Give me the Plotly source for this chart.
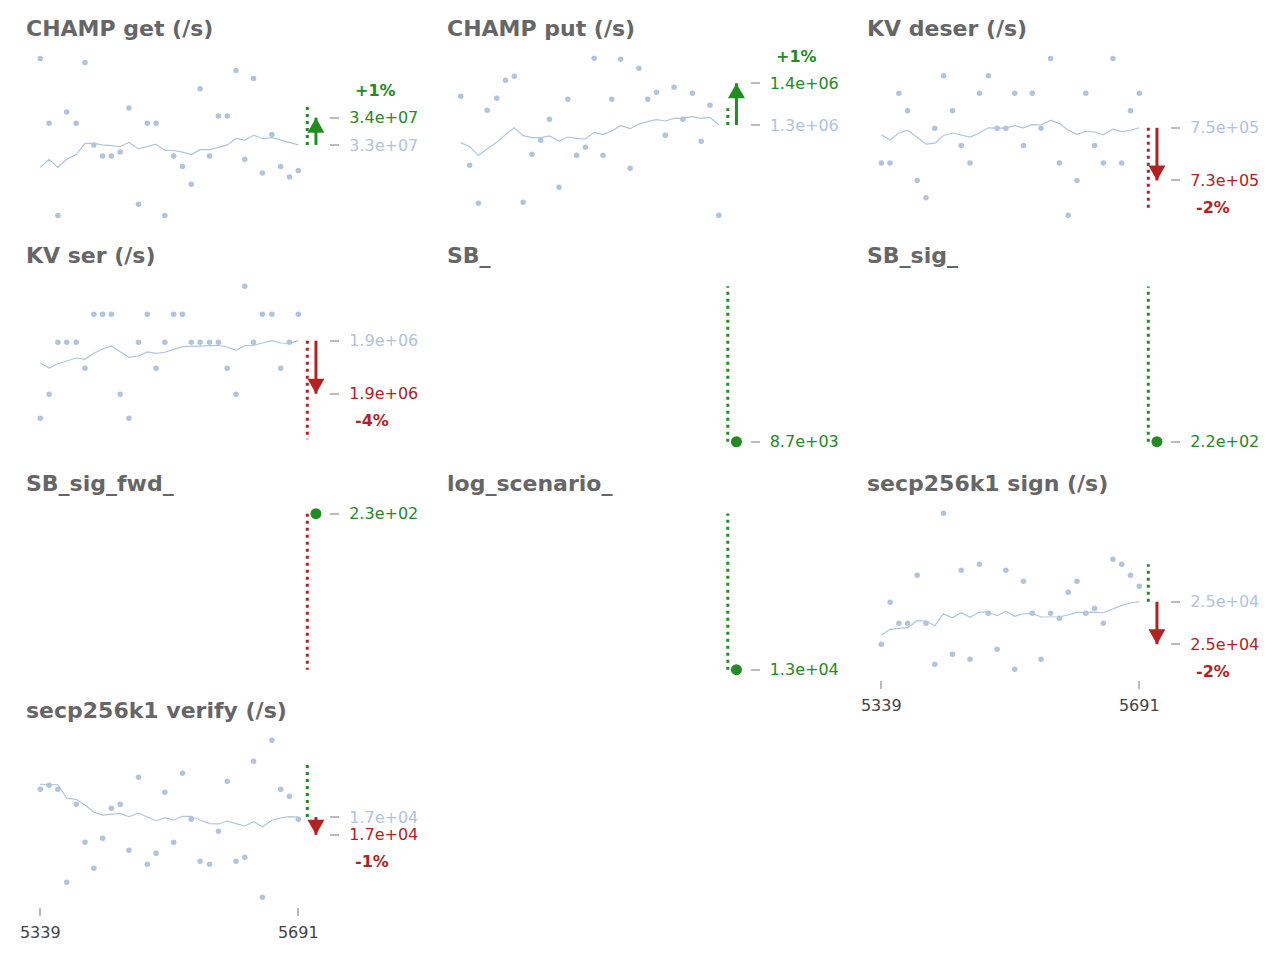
import plotly.graph_objects as go

# ---------------- data ----------------
commits = [5339, 5351, 5363, 5375, 5388, 5400, 5412, 5424, 5436, 5448,
           5460, 5473, 5485, 5497, 5509, 5521, 5533, 5545, 5557, 5570,
           5582, 5594, 5606, 5618, 5630, 5642, 5655, 5667, 5679, 5691]

titles = ["CHAMP get (/s)", "CHAMP put (/s)", "KV deser (/s)", "KV ser (/s)",
          "SB_", "SB_sig_", "SB_sig_fwd_", "log_scenario_",
          "secp256k1 sign (/s)", "secp256k1 verify (/s)"]

# value unit of each panel's numbers (ops/s = value * unit)
units = [1e5, 1e3, 1e3, 1e3, 1, 1, 1, 1, 1, 1]

champ_get_runs = [344.8, 336.7, 325.2, 338.1, 336.7, 344.3, 334.0, 332.6, 332.6, 333.1,
                  338.6, 326.6, 336.7, 336.7, 325.2, 332.6, 331.3, 329.1, 341.0, 332.6,
                  337.6, 337.6, 343.3, 332.2, 342.3, 330.5, 335.3, 331.3, 330.0, 330.8]
champ_get_avg = [331.2, 332.2, 331.2, 332.2, 332.8, 334.2, 334.2, 334.0, 333.9, 333.8,
                 334.3, 333.5, 333.8, 334.1, 333.3, 333.3, 333.1, 332.8, 333.4, 333.4,
                 333.7, 334.0, 334.8, 334.6, 335.2, 334.8, 334.9, 334.6, 334.3, 334.0]

champ_put_runs = [1352.6, 1331.9, 1320.5, 1348.4, 1352.0, 1357.4, 1358.6, 1320.8, 1335.2, 1339.4,
                  1345.7, 1325.3, 1351.7, 1334.9, 1337.3, 1364.0, 1334.9, 1351.7, 1363.7, 1331.0,
                  1361.0, 1351.7, 1353.8, 1340.9, 1355.3, 1345.7, 1353.5, 1339.1, 1349.9, 1316.9]
champ_put_avg = [1338.7, 1337.5, 1334.9, 1336.9, 1338.8, 1341.1, 1343.2, 1340.8, 1340.2, 1340.2,
                 1340.7, 1339.2, 1340.4, 1340.0, 1339.8, 1341.8, 1341.2, 1342.2, 1343.8, 1342.9,
                 1344.3, 1345.0, 1345.6, 1345.2, 1346.0, 1346.0, 1346.5, 1346.0, 1346.3, 1344.0]

kv_deser_runs = [735, 735, 755, 750, 730, 725, 745, 760, 750, 740,
                 735, 755, 760, 745, 745, 755, 740, 755, 745, 765,
                 735, 720, 730, 755, 740, 735, 765, 735, 750, 755]
kv_deser_avg = [743.1, 741.6, 743.6, 744.4, 742.4, 740.4, 740.7, 742.9, 743.6, 743.0,
                742.4, 743.6, 745.1, 745.0, 745.0, 745.7, 745.1, 746.0, 745.9, 747.3,
                746.3, 744.4, 743.2, 744.1, 743.9, 743.1, 744.7, 744.0, 744.4, 745.1]

kv_ser_runs = [1821.7, 1856.7, 1932.7, 1932.7, 1932.7, 1894.7, 1973.5, 1973.5, 1973.5, 1856.7,
               1821.7, 1932.7, 1973.5, 1894.7, 1932.7, 1973.5, 1973.5, 1932.7, 1932.7, 1932.7,
               1932.7, 1894.7, 1856.7, 2014.4, 1932.7, 1973.5, 1973.5, 1894.7, 1932.7, 1973.5]
kv_ser_avg = [1902.9, 1895.1, 1901.4, 1905.8, 1909.7, 1907.8, 1916.6, 1922.9, 1927.3, 1918.9,
              1910.8, 1912.7, 1918.5, 1916.6, 1918.1, 1922.4, 1926.2, 1926.8, 1927.3, 1927.3,
              1928.3, 1925.8, 1921.0, 1927.7, 1928.3, 1931.6, 1935.0, 1931.6, 1931.2, 1935.0]

sign_runs = [24796, 25312, 25054, 25054, 25644, 25054, 24550, 26407, 24673, 25706,
             24611, 25780, 25177, 24734, 25706, 24488, 25571, 25177, 24611, 25177,
             25116, 25435, 25571, 25177, 25239, 25054, 25841, 25780, 25644, 25509]
sign_avg = [24910, 24980, 24993, 25000, 25086, 25082, 25025, 25172, 25123, 25184,
            25128, 25193, 25193, 25148, 25202, 25140, 25172, 25177, 25132, 25132,
            25135, 25156, 25189, 25189, 25193, 25184, 25234, 25275, 25304, 25320]

verify_runs = [17310, 17348, 17310, 16427, 17168, 16807, 16560, 16845, 17130, 17168,
               16731, 17424, 16598, 16702, 17282, 16807, 17462, 17025, 16626, 16598,
               16911, 17386, 16626, 16664, 17576, 16284, 17776, 17310, 17244, 17025]
verify_avg = [17358, 17358, 17354, 17225, 17215, 17161, 17095, 17066, 17073, 17082,
              17050, 17085, 17047, 17012, 17038, 17019, 17054, 17054, 17019, 16984,
              16981, 17009, 16984, 16962, 17003, 16955, 17016, 17038, 17050, 17047]

runs = [champ_get_runs, champ_put_runs, kv_deser_runs, kv_ser_runs, None, None, None, None,
        sign_runs, verify_runs]
avgs = [champ_get_avg, champ_put_avg, kv_deser_avg, kv_ser_avg, None, None, None, None,
        sign_avg, verify_avg]

# latest measurement of each benchmark
latest = [337.4, 1356.5, 730.0, 1857.6, 8700, 220, 230, 13000, 24796, 16879]
# far end of the dotted noise band (band starts at the baseline / latest value)
band_end = [338.8, 1349.0, 721.0, 1791.0, 9140, 231, 219, 13650, 25780, 17557]
# y axis ranges
y_ranges = [[324.0, 346.1], [1314.0, 1367.1], [717.2, 768.0], [1772.5, 2030.9],
            [8671, 9172], [219.27, 231.81], [218.27, 230.75], [12957, 13694],
            [24357, 26534], [16192, 17874]]
x_tick_panels = [8, 9]

# ---------------- style / layout ----------------
W, H = 1280, 960
GREEN = "#228B22"
RED = "#B22222"
LIGHT = "#B0C4DE"
TITLE_C = "#666666"
TICK_C = "#BBBBBB"
FONT = "DejaVu Sans"
COL_L = [26, 446.5, 867]
COL_R = [329, 749.5, 1170]
ROW_T = [48, 275, 503, 730]
ROW_B = [225, 452, 680, 907]
X_RANGE = [5319.5, 5732.9]
BAND_DX = 12.3     # dotted band offset right of last commit (x units)
ARROW_DX = 24.1    # arrow offset right of last commit (x units)


def fmt(v, unit):
    return f"{v * unit:.1e}"


fig = go.Figure()
shapes = []
annotations = []
last_commit = commits[-1]
band_x = last_commit + BAND_DX
arrow_x = last_commit + ARROW_DX

for i, title in enumerate(titles):
    r, c = divmod(i, 3)
    n = i + 1
    xs = "" if n == 1 else str(n)
    xname, yname = "x" + xs, "y" + xs
    unit = units[i]
    lat = latest[i]

    xdom = [COL_L[c] / W, COL_R[c] / W]
    ydom = [1 - ROW_B[r] / H, 1 - ROW_T[r] / H]
    show_x = i in x_tick_panels

    fig.update_layout(**{
        "xaxis" + xs: dict(domain=xdom, range=X_RANGE, anchor=yname, automargin=False,
                           showgrid=False, zeroline=False, showline=False,
                           tickvals=[commits[0], commits[-1]] if show_x else [],
                           ticktext=[str(commits[0]), str(commits[-1])] if show_x else [],
                           ticks="outside" if show_x else "", ticklen=8, tickwidth=2,
                           tickcolor=TICK_C, showticklabels=show_x,
                           ticklabelstandoff=3,
                           tickfont=dict(family=FONT, size=16, color="#444444"),
                           fixedrange=True),
    })

    if runs[i] is not None:
        base = avgs[i][-1]
        up = lat > base
        col = GREEN if up else RED
        fig.add_trace(go.Scatter(x=commits, y=runs[i], mode="markers",
                                 marker=dict(size=5.5, color=LIGHT, line=dict(width=0)),
                                 xaxis=xname, yaxis=yname, showlegend=False,
                                 hoverinfo="skip"))
        fig.add_trace(go.Scatter(x=commits, y=avgs[i], mode="lines",
                                 line=dict(width=1.2, color=LIGHT),
                                 xaxis=xname, yaxis=yname, showlegend=False,
                                 hoverinfo="skip"))
        band_start = base
        tickvals = [base, lat]
        ticktext = [f"<span style='color:{LIGHT}'>{fmt(base, unit)}</span>",
                    f"<span style='color:{col}'>{fmt(lat, unit)}</span>"]
        # arrow shaft
        shapes.append(dict(type="line", xref=xname, yref=yname,
                           x0=arrow_x, x1=arrow_x, y0=base, y1=lat,
                           line=dict(color=col, width=3)))
        # arrow head (pixel sized, anchored at the latest value)
        head = "M-8.5,-15L8.5,-15L0,0Z" if up else "M-8.5,15L8.5,15L0,0Z"
        shapes.append(dict(type="path", xref=xname, yref=yname,
                           xsizemode="pixel", ysizemode="pixel",
                           xanchor=arrow_x, yanchor=lat, path=head,
                           fillcolor=col, line=dict(width=0)))
        pct = (lat / base - 1) * 100
        annotations.append(dict(xref=xname + " domain", x=1, xanchor="left", xshift=24,
                                yref=yname, y=lat, yanchor="middle",
                                yshift=27 if up else -27,
                                text=f"<b>{pct:+.0f}%</b>", showarrow=False,
                                font=dict(family=FONT, size=16, color=col)))
    else:
        band_start = lat
        fig.add_trace(go.Scatter(x=[arrow_x], y=[lat], mode="markers",
                                 marker=dict(size=11, color=GREEN, line=dict(width=0)),
                                 xaxis=xname, yaxis=yname, showlegend=False,
                                 hoverinfo="skip", cliponaxis=False))
        tickvals = [lat]
        ticktext = [f"<span style='color:{GREEN}'>{fmt(lat, unit)}</span>"]

    band_col = GREEN if band_end[i] > band_start else RED
    shapes.insert(0, dict(type="line", xref=xname, yref=yname,
                          x0=band_x, x1=band_x, y0=band_start, y1=band_end[i],
                          line=dict(color=band_col, width=3, dash="3px,4px")))

    fig.update_layout(**{
        "yaxis" + xs: dict(domain=ydom, range=y_ranges[i], anchor=xname, side="right",
                           automargin=False,
                           showgrid=False, zeroline=False, showline=False,
                           tickvals=tickvals, ticktext=ticktext,
                           ticks="outside", ticklen=9, tickwidth=2, tickcolor=TICK_C,
                           ticklabelstandoff=7,
                           tickfont=dict(family=FONT, size=16, color=LIGHT),
                           fixedrange=True),
    })

    annotations.append(dict(xref="paper", yref="paper", x=COL_L[c] / W, xshift=-2,
                            y=1 - (ROW_T[r] - 20) / H, xanchor="left", yanchor="middle",
                            text=title, showarrow=False,
                            font=dict(family=FONT, size=22, color=TITLE_C, weight="bold")))

fig.update_layout(width=W, height=H, margin=dict(l=0, r=0, t=0, b=0, autoexpand=False),
                  paper_bgcolor="white", plot_bgcolor="white",
                  shapes=shapes, annotations=annotations, showlegend=False,
                  font=dict(family=FONT))

fig.write_html("out.html", config={"displayModeBar": False})
